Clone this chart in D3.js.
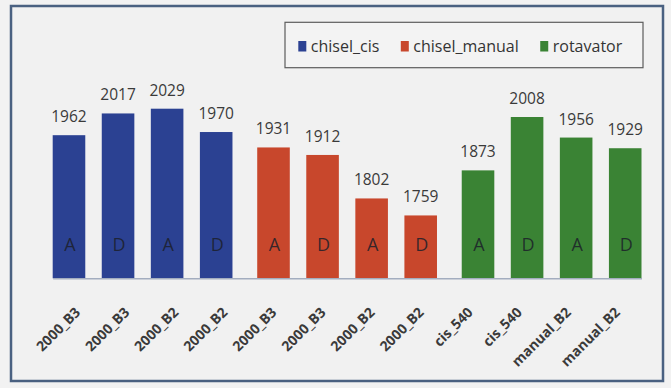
<!DOCTYPE html>
<html>
<head>
<meta charset="utf-8">
<script src="https://cdn.jsdelivr.net/npm/d3@7"></script>
<style>
  html, body { margin: 0; padding: 0; background: #f2f2f2; }
  svg { display: block; }
  text { font-family: "Open Sans", "DejaVu Sans", sans-serif; }
</style>
</head>
<body>
<svg id="chart" width="671" height="388"></svg>
<script>
// Tillage treatments and their measured values
const series = ["chisel_cis", "chisel_manual", "rotavator"];
const seriesColors = ["#2b4192", "#c8472c", "#3a8334"];
const categories = ["2000_B3", "2000_B3", "2000_B2", "2000_B2",
                    "2000_B3", "2000_B3", "2000_B2", "2000_B2",
                    "cis_540", "cis_540", "manual_B2", "manual_B2"];
const seriesIndex = [0, 0, 0, 0, 1, 1, 1, 1, 2, 2, 2, 2];
const values = [1962, 2017, 2029, 1970, 1931, 1912, 1802, 1759, 1873, 2008, 1956, 1929];
const letters = ["A", "D", "A", "D", "A", "D", "A", "D", "A", "D", "A", "D"];
const yDomain = [1600, 2200];

const svg = d3.select("#chart");

// outer frame
svg.append("rect")
  .attr("x", 11).attr("y", 6).attr("width", 652).attr("height", 375)
  .attr("fill", "#f1f1f1").attr("stroke", "#4a6181").attr("stroke-width", 2.5);

const left = 52.7, right = 641.5, baseY = 278.3, topY = 41.1;

const y = d3.scaleLinear().domain(yDomain).range([baseY, topY]);

// bars are clustered by series
const xGroup = d3.scaleBand().domain(d3.range(series.length))
  .range([left, right]).paddingInner(0.121).paddingOuter(0);
const xInner = d3.scaleBand().domain(d3.range(4))
  .range([0, xGroup.bandwidth()]).paddingInner(0.336).paddingOuter(0);

// category labels sit on an evenly spaced axis
const xCat = d3.scaleBand().domain(d3.range(categories.length)).range([left, right]);

const posInGroup = seriesIndex.map((s, i) => seriesIndex.slice(0, i).filter(v => v === s).length);
const barX = i => xGroup(seriesIndex[i]) + xInner(posInGroup[i]);
const bw = xInner.bandwidth();

const data = values.map((v, i) => ({ i, v, s: seriesIndex[i], letter: letters[i] }));

svg.append("g").selectAll("rect").data(data).join("rect")
  .attr("x", d => barX(d.i))
  .attr("y", d => y(d.v))
  .attr("width", bw)
  .attr("height", d => y(yDomain[0]) - y(d.v))
  .attr("fill", d => seriesColors[d.s]);

// value labels above bars
svg.append("g").selectAll("text").data(data).join("text")
  .attr("x", d => barX(d.i) + bw / 2)
  .attr("y", d => y(d.v) - 13)
  .attr("text-anchor", "middle")
  .attr("font-size", 15.5)
  .attr("fill", "#3a3a3a")
  .text(d => d.v);

// A / D markers inside bars
svg.append("g").selectAll("text").data(data).join("text")
  .attr("x", d => barX(d.i) + bw / 2 + 1)
  .attr("y", 251)
  .attr("text-anchor", "middle")
  .attr("font-size", 18)
  .attr("fill", "#1c1f2a")
  .attr("fill-opacity", 0.85)
  .text(d => d.letter);

// category axis: baseline only, labels drawn rotated below
const axis = d3.axisBottom(xCat)
  .tickSize(0).tickSizeOuter(0)
  .tickFormat(() => "");

const gAxis = svg.append("g").attr("transform", `translate(0,${baseY})`).call(axis);
gAxis.select(".domain").attr("stroke", "#a3adbf").attr("stroke-width", 1.5);

svg.append("g").selectAll("text").data(categories).join("text")
  .attr("transform", (c, i) => `translate(${xCat(i) + xCat.bandwidth() / 2 + 4},${baseY + 35}) rotate(-45)`)
  .attr("text-anchor", "end")
  .attr("font-size", 14)
  .attr("font-weight", "bold")
  .attr("fill", "#3a3a3a")
  .text(c => c);

// legend
const lg = svg.append("g");
lg.append("rect")
  .attr("x", 285).attr("y", 22.3).attr("width", 358).attr("height", 45.4)
  .attr("fill", "#f3f3f3").attr("stroke", "#5c5c5c").attr("stroke-width", 1.2);
let lx = 298.3;
series.forEach((name, k) => {
  lg.append("rect").attr("x", lx).attr("y", 41).attr("width", 8).attr("height", 10.5)
    .attr("fill", seriesColors[k]);
  const t = lg.append("text").attr("x", lx + 12.5).attr("y", 51.5)
    .attr("font-size", 16).attr("fill", "#333").text(name);
  lx += 12.5 + t.node().getComputedTextLength() + 21.5;
});
</script>
</body>
</html>
